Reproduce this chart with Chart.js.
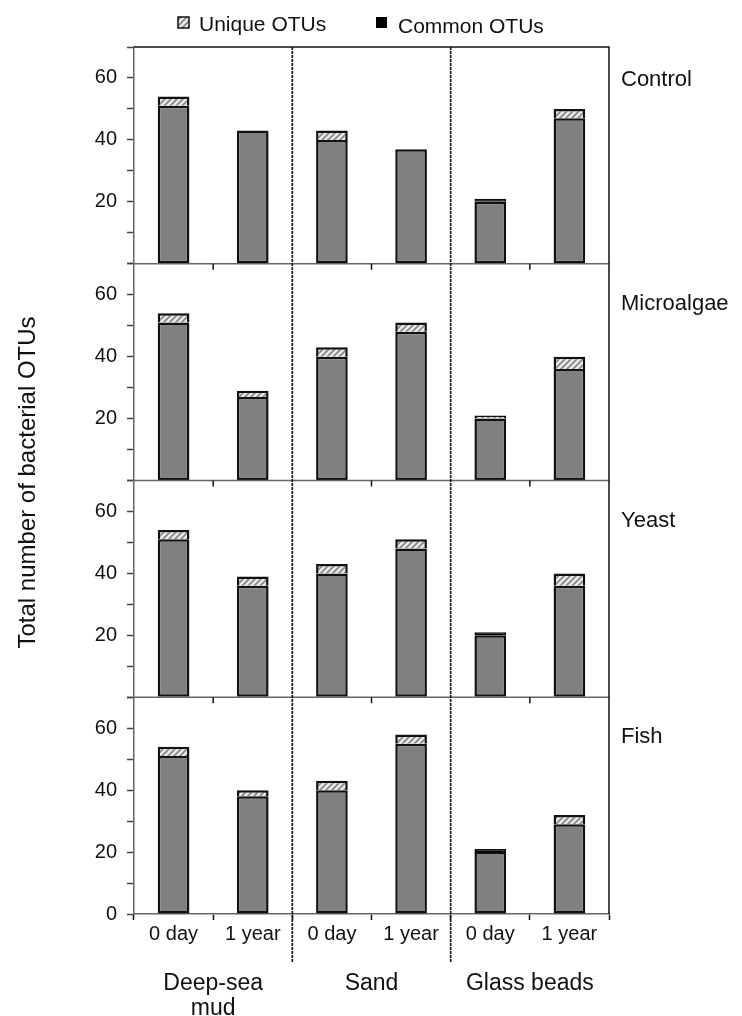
<!DOCTYPE html>
<html><head><meta charset="utf-8">
<script src="https://cdn.jsdelivr.net/npm/chart.js@4.4.1/dist/chart.umd.min.js"></script>
<style>html,body{margin:0;padding:0;background:#fff;}#wrap{position:relative;width:742px;height:1016px;}</style>
</head><body><div id="wrap"><canvas id="c" width="742" height="1016"></canvas></div>
<script>
// ---- data ----
const timepoints = ['0 day', '1 year', '0 day', '1 year', '0 day', '1 year'];
const substrates = [['Deep-sea', 'mud'], ['Sand'], ['Glass beads']];
const treatments = ['Control', 'Microalgae', 'Yeast', 'Fish'];
const yTickLabels = [0, 20, 40, 60];
const yMax = 70;

const sharedControl    = [51, 43, 40, 37, 20, 47];
const uniqueControl    = [3, 0, 3, 0, 0, 3];
const commonControl    = [0, 0, 0, 0, 1, 0];

const sharedMicroalgae = [51, 27, 40, 48, 20, 36];
const uniqueMicroalgae = [3, 2, 3, 3, 1, 4];
const commonMicroalgae = [0, 0, 0, 0, 0, 0];

const sharedYeast      = [51, 36, 40, 48, 20, 36];
const uniqueYeast      = [3, 3, 3, 3, 0, 4];
const commonYeast      = [0, 0, 0, 0, 1, 0];

const sharedFish       = [51, 38, 40, 55, 20, 29];
const uniqueFish       = [3, 2, 3, 3, 0, 3];
const commonFish       = [0, 0, 0, 0, 1, 0];

const sharedSets = [sharedControl, sharedMicroalgae, sharedYeast, sharedFish];
const uniqueSets = [uniqueControl, uniqueMicroalgae, uniqueYeast, uniqueFish];
const commonSets = [commonControl, commonMicroalgae, commonYeast, commonFish];

// ---- styles ----
const FONT = "'Liberation Sans', Arial, Helvetica, sans-serif";
Chart.defaults.font.family = FONT;
Chart.defaults.color = '#111';
const panelLabelOffset = [39, 46, 46, 46];

function makeHatch() {
  const c = document.createElement('canvas');
  c.width = 6; c.height = 6;
  const g = c.getContext('2d');
  g.fillStyle = '#ececec'; g.fillRect(0, 0, 6, 6);
  g.strokeStyle = '#878787'; g.lineWidth = 1.8;
  g.beginPath();
  g.moveTo(-1, 7); g.lineTo(7, -1);
  g.moveTo(-4, 4); g.lineTo(4, -4);
  g.moveTo(2, 10); g.lineTo(10, 2);
  g.stroke();
  return g.createPattern(c, 'repeat');
}
const hatch = makeHatch();
const nz = a => a.map(v => (v > 0 ? v : null));

const datasets = [];
treatments.forEach((t, i) => {
  const yid = 'y' + i;
  datasets.push({ label: 'Shared OTUs', data: sharedSets[i], backgroundColor: '#808080', yAxisID: yid,
                  borderColor: '#111', borderWidth: 2.5, borderSkipped: false });
  datasets.push({ label: 'Unique OTUs', data: nz(uniqueSets[i]), backgroundColor: hatch, yAxisID: yid,
                  borderColor: '#111', borderWidth: 2.5, borderSkipped: 'bottom' });
  datasets.push({ label: 'Common OTUs', data: nz(commonSets[i]), backgroundColor: '#000000', yAxisID: yid,
                  borderColor: '#111', borderWidth: 2.5, borderSkipped: 'bottom' });
});

function yScale(i) {
  return {
    type: 'linear', position: 'left', stack: 'panels', stackWeight: 1,
    weight: treatments.length - i,
    stacked: true, min: 0, max: yMax,
    border: { color: '#666', width: 1.5 },
    grid: { drawOnChartArea: false, drawTicks: true, tickLength: 7, tickColor: '#444', tickWidth: 1.5 },
    ticks: {
      stepSize: 10, autoSkip: false, padding: 10, color: '#111', font: { size: 20 },
      callback: v => (yTickLabels.includes(v) && (v > 0 || i === treatments.length - 1)) ? String(v) : ''
    },
    afterFit: s => { s.width = 134; }
  };
}

const scales = {
  x: {
    type: 'category', stacked: true, offset: true, position: 'bottom',
    border: { color: '#666', width: 1.5 },
    grid: { offset: true, drawOnChartArea: false, tickLength: 6, tickColor: '#111', tickWidth: 1.5 },
    ticks: { font: { size: 20 }, padding: 2, autoSkip: false, maxRotation: 0, color: '#111' },
    afterFit: s => { s.height = 30; }
  },
  x2: {
    type: 'category', labels: substrates, offset: true, position: 'bottom',
    grid: { display: false }, border: { display: false },
    ticks: { font: { size: 23, lineHeight: 1.05 }, padding: 20, autoSkip: false, maxRotation: 0, color: '#111' },
    afterFit: s => { s.height = 72; }
  }
};
for (let i = treatments.length - 1; i >= 0; i--) scales['y' + i] = yScale(i);

const decor = {
  id: 'decor',
  afterDraw(chart) {
    const ctx = chart.ctx, ca = chart.chartArea, xs = chart.scales.x, x2 = chart.scales.x2;
    const mid = k => (xs.getPixelForValue(k) + xs.getPixelForValue(k + 1)) / 2;
    ctx.save();
    // panel separators and their tick marks
    for (let i = 0; i < treatments.length - 1; i++) {
      const y = chart.scales['y' + i].getPixelForValue(0);
      ctx.strokeStyle = '#666'; ctx.lineWidth = 1.5;
      ctx.beginPath(); ctx.moveTo(ca.left, y); ctx.lineTo(ca.right, y); ctx.stroke();
      ctx.strokeStyle = '#111';
      [0, 2, 4].forEach(k => {
        const xx = mid(k);
        ctx.beginPath(); ctx.moveTo(xx, y); ctx.lineTo(xx, y + 6); ctx.stroke();
      });
    }
    // frame top & right
    ctx.strokeStyle = '#111'; ctx.lineWidth = 1.5;
    ctx.beginPath();
    ctx.moveTo(ca.left, ca.top); ctx.lineTo(ca.right, ca.top); ctx.lineTo(ca.right, ca.bottom);
    ctx.stroke();
    // dotted dividers between substrates
    ctx.setLineDash([3, 1]); ctx.lineWidth = 1.6; ctx.strokeStyle = '#111';
    [1, 3].forEach(k => {
      const xx = mid(k);
      ctx.beginPath(); ctx.moveTo(xx, ca.top); ctx.lineTo(xx, x2.top + 18); ctx.stroke();
    });
    ctx.setLineDash([]);
    // panel names
    ctx.fillStyle = '#111'; ctx.font = '22px ' + FONT;
    ctx.textAlign = 'left'; ctx.textBaseline = 'alphabetic';
    treatments.forEach((t, i) => {
      const s = chart.scales['y' + i];
      ctx.fillText(t, ca.right + 12, s.top + panelLabelOffset[i]);
    });
    // y-axis title
    ctx.save();
    ctx.translate(28, (ca.top + ca.bottom) / 2 + 2);
    ctx.rotate(-Math.PI / 2);
    ctx.font = '24px ' + FONT; ctx.textAlign = 'center'; ctx.textBaseline = 'middle';
    ctx.fillText('Total number of bacterial OTUs', 0, 0);
    ctx.restore();
    // legend
    ctx.lineWidth = 1.5; ctx.strokeStyle = '#111';
    ctx.fillStyle = hatch; ctx.fillRect(178, 17, 11, 11); ctx.strokeRect(178, 17, 11, 11);
    ctx.fillStyle = '#000'; ctx.fillRect(376, 17, 11, 11);
    ctx.fillStyle = '#111'; ctx.font = '21px ' + FONT;
    ctx.fillText('Unique OTUs', 199, 31);
    ctx.fillText('Common OTUs', 398, 33);
    ctx.restore();
  }
};

new Chart(document.getElementById('c'), {
  type: 'bar',
  data: { labels: timepoints, datasets },
  options: {
    responsive: false, animation: false, devicePixelRatio: 1,
    layout: { padding: { top: 47, right: 133, bottom: 0, left: 0 } },
    datasets: { bar: { categoryPercentage: 1, barPercentage: 0.4 } },
    plugins: { legend: { display: false }, tooltip: { enabled: false } },
    scales
  },
  plugins: [decor]
});
</script></body></html>
